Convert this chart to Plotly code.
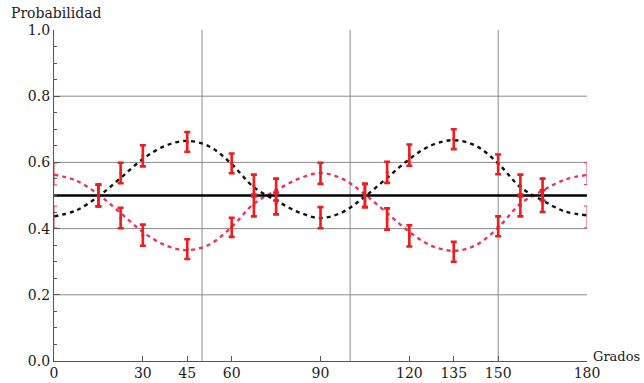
import plotly.graph_objects as go

# Theoretical (dashed) curves
curve_x = [0, 7.5, 15, 22.5, 30, 37.5, 45, 52.5, 60, 67.5, 75, 82.5, 90,
           97.5, 105, 112.5, 120, 127.5, 135, 142.5, 150, 157.5, 165, 172.5, 180]
black_curve = [0.437, 0.455, 0.497, 0.553, 0.610, 0.650, 0.665, 0.648, 0.595, 0.525,
               0.485, 0.450, 0.432, 0.450, 0.497, 0.553, 0.610, 0.652, 0.667, 0.650,
               0.597, 0.525, 0.485, 0.452, 0.440]
red_curve = [0.563, 0.545, 0.503, 0.447, 0.390, 0.350, 0.335, 0.352, 0.405, 0.475,
             0.515, 0.550, 0.568, 0.550, 0.503, 0.447, 0.390, 0.348, 0.333, 0.350,
             0.403, 0.475, 0.515, 0.548, 0.562]

# Measured points with error bars
angles = [15, 22.5, 30, 45, 60, 67.5, 75, 90, 105, 112.5, 120, 135, 150, 157.5, 165]
black_meas = [0.500, 0.568, 0.620, 0.662, 0.597, 0.530, 0.518, 0.433, 0.500,
              0.570, 0.622, 0.670, 0.594, 0.530, 0.518]
red_meas = [0.500, 0.432, 0.380, 0.338, 0.404, 0.470, 0.476, 0.567, 0.500,
            0.429, 0.378, 0.330, 0.407, 0.470, 0.483]
black_err = [0.033, 0.031, 0.032, 0.030, 0.030, 0.033, 0.033, 0.032, 0.035,
             0.032, 0.032, 0.030, 0.030, 0.033, 0.033]
red_err = [0.033, 0.031, 0.032, 0.030, 0.029, 0.033, 0.033, 0.032, 0.035,
           0.032, 0.032, 0.030, 0.030, 0.033, 0.033]

# Points at the plot edges (only half visible in the original)
edge_angles = [0, 0, 180, 180]
edge_meas = [0.435, 0.565, 0.435, 0.566]
edge_err = [0.033, 0.033, 0.033, 0.033]

ref_x = [0, 180]
ref_y = [0.5, 0.5]

x_ticks = [0, 30, 45, 60, 90, 120, 135, 150, 180]
y_ticks = [0.0, 0.2, 0.4, 0.6, 0.8, 1.0]
y_tick_text = ["0.0", "0.2", "0.4", "0.6", "0.8", "1.0"]
x_grid = [50, 100, 150]
y_grid = [0.2, 0.4, 0.6, 0.8]

FONT = "DejaVu Serif"
FS = 14
TXT = "#1a1a1a"
ERR_RED = "#ee1c1c"

fig = go.Figure()

fig.add_trace(go.Scatter(x=curve_x, y=black_curve, mode="lines", line_shape="spline",
                         line=dict(color="#111111", width=2.4, dash="4px,4px"),
                         showlegend=False))
fig.add_trace(go.Scatter(x=curve_x, y=red_curve, mode="lines", line_shape="spline",
                         line=dict(color="#e8325f", width=2.4, dash="4px,4px"),
                         showlegend=False))
fig.add_trace(go.Scatter(x=ref_x, y=ref_y, mode="lines",
                         line=dict(color="#000000", width=2.6), showlegend=False))

fig.add_trace(go.Scatter(
    x=edge_angles, y=edge_meas, mode="markers",
    marker=dict(color=ERR_RED, size=1, opacity=0),
    error_y=dict(type="data", array=edge_err, visible=True, color="#e8325f",
                 thickness=1, width=3),
    showlegend=False))

for meas, err in ((black_meas, black_err), (red_meas, red_err)):
    fig.add_trace(go.Scatter(
        x=angles, y=meas, mode="markers",
        marker=dict(color=ERR_RED, size=3),
        error_y=dict(type="data", array=err, visible=True, color=ERR_RED,
                     thickness=2.6, width=3),
        showlegend=False))

shapes = []
for gx in x_grid:
    shapes.append(dict(type="line", xref="x", yref="y", x0=gx, x1=gx, y0=0, y1=1,
                       line=dict(color="#8a8a8a", width=1), layer="below"))
for gy in y_grid:
    shapes.append(dict(type="line", xref="x", yref="y", x0=0, x1=180, y0=gy, y1=gy,
                       line=dict(color="#8a8a8a", width=1), layer="below"))

fig.update_layout(
    width=644, height=383,
    margin=dict(l=54, r=57, t=30, b=22, autoexpand=False),
    paper_bgcolor="white", plot_bgcolor="white",
    font=dict(family=FONT, size=FS, color=TXT),
    shapes=shapes,
    annotations=[
        dict(text="Probabilidad", xref="paper", yref="paper", x=-0.085, y=1.0,
             xanchor="left", yanchor="bottom", yshift=7, showarrow=False,
             font=dict(family=FONT, size=FS, color=TXT)),
        dict(text="Grados", xref="paper", yref="paper", x=1.0, y=0.0,
             xanchor="left", yanchor="middle", xshift=4, yshift=5, showarrow=False,
             font=dict(family=FONT, size=13, color=TXT)),
    ],
)
fig.update_xaxes(range=[0, 180], tickmode="array", tickvals=x_ticks, automargin=False,
                 ticks="inside", ticklen=5, tickcolor="#555555", showgrid=False,
                 zeroline=False, showline=True, linecolor="#555555", linewidth=1.2,
                 tickfont=dict(family=FONT, size=FS, color=TXT), ticklabelstandoff=-1)
fig.update_yaxes(range=[0, 1], tickmode="array", tickvals=y_ticks, ticktext=y_tick_text,
                 automargin=False,
                 ticks="inside", ticklen=6, tickcolor="#555555", showgrid=False,
                 zeroline=False, showline=True, linecolor="#555555", linewidth=1.2,
                 tickfont=dict(family=FONT, size=FS, color=TXT),
                 minor=dict(tickvals=[0.05, 0.1, 0.15, 0.25, 0.3, 0.35, 0.45, 0.5, 0.55,
                                      0.65, 0.7, 0.75, 0.85, 0.9, 0.95],
                            ticks="inside", ticklen=3, tickcolor="#555555"))

fig.write_html("out.html")
